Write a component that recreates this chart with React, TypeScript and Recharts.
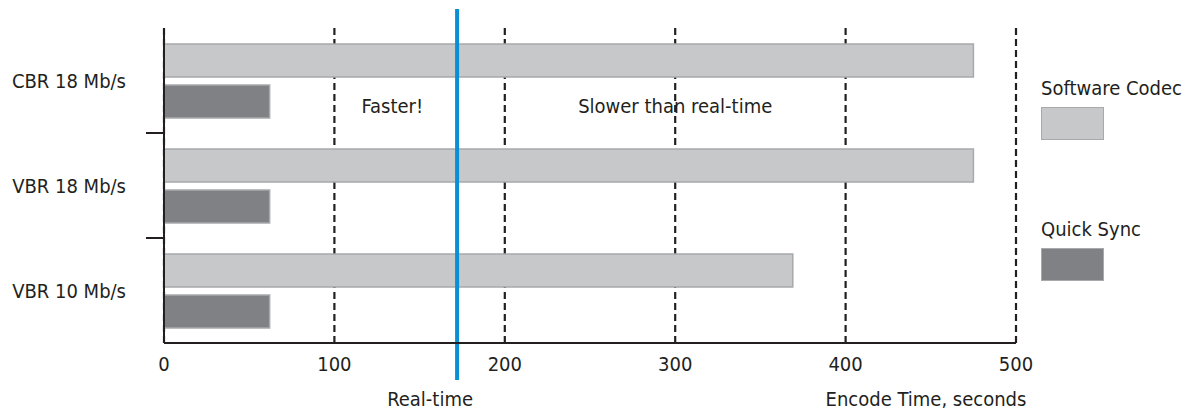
import { ComposedChart, Bar, XAxis, YAxis, CartesianGrid, ReferenceLine, ReferenceDot, Legend } from 'recharts';

const categories = ['CBR 18 Mb/s', 'VBR 18 Mb/s', 'VBR 10 Mb/s'];
const softwareCodec = [475, 475, 369];
const quickSync = [62, 62, 62];
const xTicks = [0, 100, 200, 300, 400, 500];
const realTime = 172;
const seriesNames = ['Software Codec', 'Quick Sync'];
const notes = [
  { x: 134, text: 'Faster!' },
  { x: 300, text: 'Slower than real-time' },
];

const data = categories.map((name, i) => ({
  name,
  software: softwareCodec[i],
  quick: quickSync[i],
}));

const FONT = "'DejaVu Sans Condensed', 'DejaVu Sans', sans-serif";
const INK = '#231f20';
const LEGEND_W = 150;

const CatTick = ({ x, y, payload, index }: any) => {
  const half = payload.offset || 0;
  return (
    <g>
      <text x={x - 38} y={y} textAnchor="end" dominantBaseline="central" fontFamily={FONT} fontStretch="condensed" fontSize={20} fill={INK}>
        {payload.value}
      </text>
      {index < categories.length - 1 && (
        <line x1={x - 18} x2={x} y1={y + half} y2={y + half} stroke={INK} strokeWidth={2} />
      )}
    </g>
  );
};

const NumTick = ({ x, y, payload }: any) => (
  <text x={x} y={y + 13} textAnchor="middle" dominantBaseline="central" fontFamily={FONT} fontStretch="condensed" fontSize={20} fill={INK}>
    {payload.value}
  </text>
);

const AxisTitle = ({ viewBox }: any) => (
  <text x={viewBox.x + viewBox.width - 90} y={viewBox.y + 56} textAnchor="middle" dominantBaseline="central" fontFamily={FONT} fontStretch="condensed" fontSize={20} fill={INK}>
    Encode Time, seconds
  </text>
);

const RealTimeLine = (props: any) => {
  const { x1, y1, y2 } = props;
  const top = Math.min(y1, y2);
  const bottom = Math.max(y1, y2);
  return (
    <g>
      <line x1={x1} x2={x1} y1={top - 19} y2={bottom + 37} stroke="#0a8fd4" strokeWidth={4} />
      <text x={x1 - 27} y={bottom + 56} textAnchor="middle" dominantBaseline="central" fontFamily={FONT} fontStretch="condensed" fontSize={20} fill={INK}>
        Real-time
      </text>
    </g>
  );
};

const NoteLabel = (text: string) => (props: any) => (
  <text x={props.cx} y={props.cy + 25} textAnchor="middle" dominantBaseline="central" fontFamily={FONT} fontStretch="condensed" fontSize={20} fill={INK}>
    {text}
  </text>
);

const LegendBox = ({ payload }: any) => {
  const items = seriesNames.map((n) => (payload || []).find((p: any) => p.value === n)).filter(Boolean);
  return (
    <div style={{ fontFamily: FONT, fontStretch: 'condensed', fontSize: 20, color: INK, textAlign: 'left' }}>
      {items.map((p: any, i: number) => (
        <div key={p.value} style={{ marginBottom: i === 0 ? 77 : 0 }}>
          <div style={{ lineHeight: '24px', whiteSpace: 'nowrap' }}>{p.value}</div>
          <div
            style={{
              marginTop: 7,
              width: 61,
              height: 31,
              background: p.color,
              border: '1px solid #a7a9ac',
            }}
          />
        </div>
      ))}
    </div>
  );
};

export default function App() {
  return (
    <div style={{ width: 1194, height: 411, background: '#fff' }}>
      <style>{'body{margin:0}'}</style>
      <ComposedChart
        width={1194}
        height={411}
        data={data}
        layout="vertical"
        margin={{ top: 28, right: 178 - LEGEND_W, bottom: 28, left: 0 }}
        barGap={8}
        barCategoryGap={14}
      >
        <CartesianGrid
          horizontal={false}
          stroke={INK}
          strokeWidth={2.2}
          strokeDasharray="7 4"
        />
        <XAxis
          type="number"
          domain={[0, 500]}
          ticks={xTicks}
          height={40}
          axisLine={{ stroke: INK, strokeWidth: 2 }}
          tickLine={false}
          tick={<NumTick />}
          label={<AxisTitle />}
        />
        <YAxis
          type="category"
          dataKey="name"
          width={164}
          tickSize={0}
          tickMargin={0}
          axisLine={{ stroke: INK, strokeWidth: 2 }}
          tickLine={false}
          tick={<CatTick />}
        />
        <Legend
          layout="vertical"
          align="right"
          verticalAlign="top"
          content={<LegendBox />}
          wrapperStyle={{ left: 1041, top: 76, width: LEGEND_W }}
        />
        <Bar dataKey="software" name="Software Codec" fill="#c7c8ca" stroke="#a7a9ac" strokeWidth={1.5} barSize={33} isAnimationActive={false} />
        <Bar dataKey="quick" name="Quick Sync" fill="#808184" stroke="#a7a9ac" strokeWidth={1.5} barSize={33} isAnimationActive={false} />
        {notes.map((n) => (
          <ReferenceDot key={n.text} x={n.x} y={categories[0]} r={0} shape={NoteLabel(n.text)} />
        ))}
        <ReferenceLine x={realTime} shape={<RealTimeLine />} />
      </ComposedChart>
    </div>
  );
}
